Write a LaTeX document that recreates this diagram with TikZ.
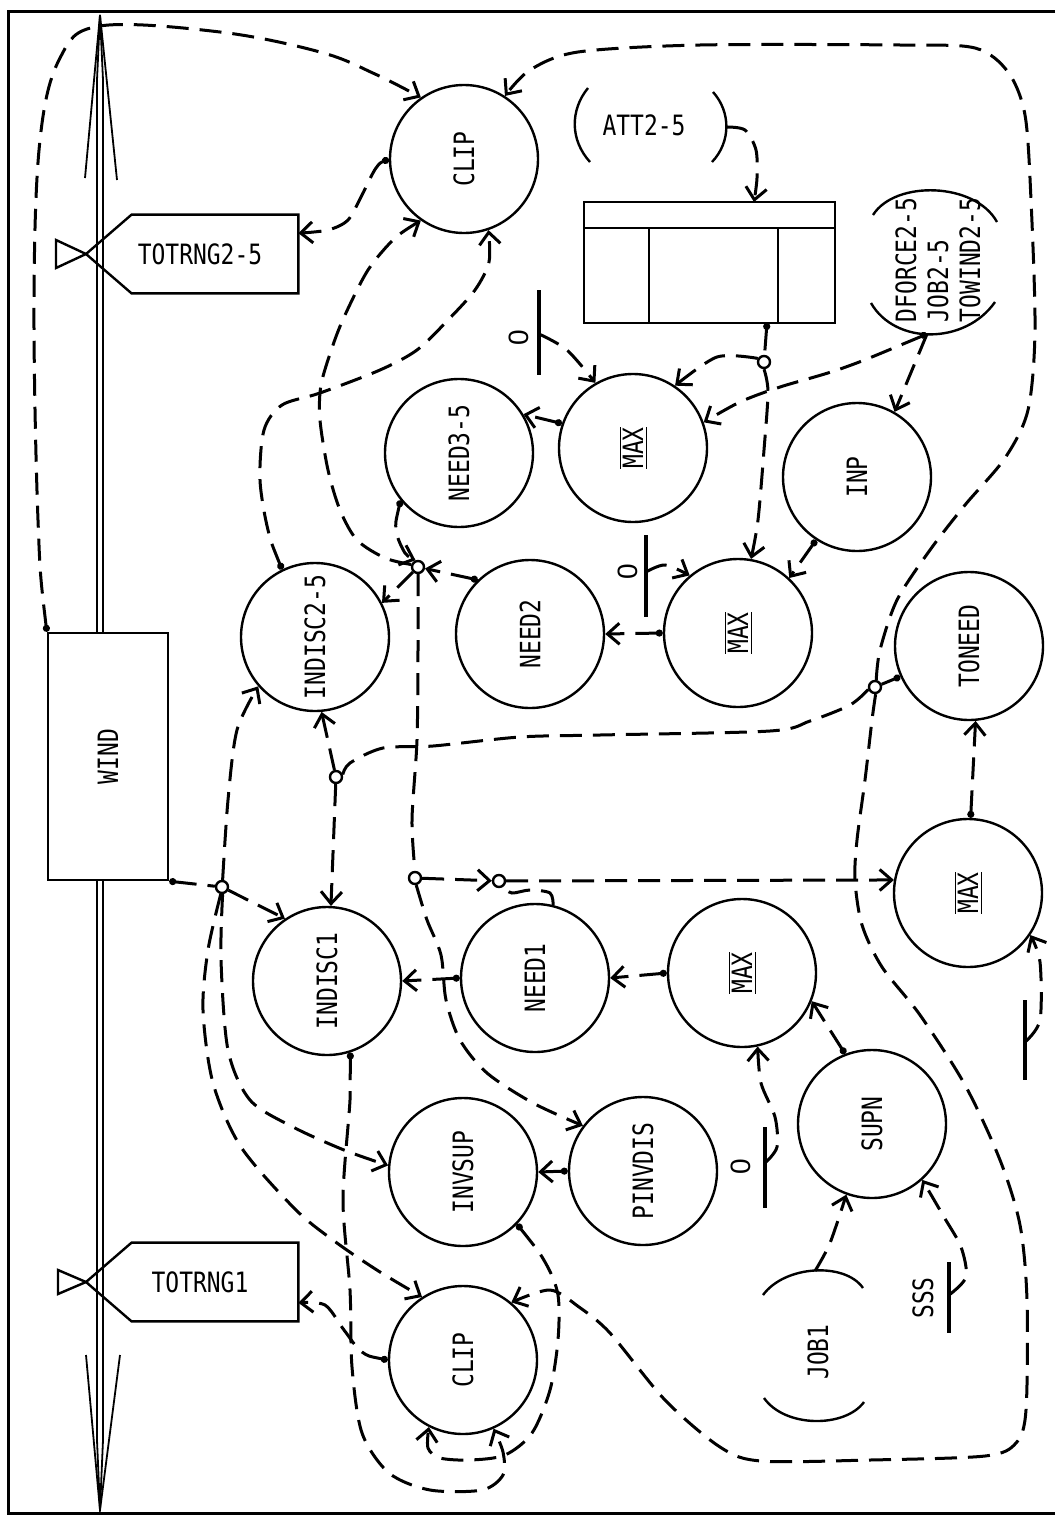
\documentclass[tikz,border=0pt]{standalone}
\usepackage{fontspec}
\newfontfamily\plotfont[FakeStretch=0.82]{DejaVu Sans Mono}
\newfontfamily\zerofont{Liberation Sans}
\usetikzlibrary{arrows.meta}
\newcommand{\maxbar}{$\overline{\underline{\mbox{MAX}}}$}

\begin{document}
\begin{tikzpicture}[x=0.5pt, y=-0.5pt,
    font=\plotfont\fontsize{14}{16}\selectfont,
    bubble/.style={circle, draw, line width=1.2pt, minimum size=74pt, inner sep=1pt},
    junc/.style={circle, draw, line width=1.2pt, fill=white, inner sep=0pt, minimum size=6pt},
    flow/.style={line width=1.5pt, dash pattern=on 11pt off 5.5pt},
    link/.style={flow, -{Straight Barb[length=6pt,width=10.5pt]}},
    dlink/.style={flow, {Circle[length=3.5pt]}-{Straight Barb[length=6pt,width=10.5pt]}},
    dline/.style={flow, {Circle[length=3.5pt]}-},
    outline/.style={line width=1.2pt},
    const/.style={line width=1.6pt},
    zero/.style={rotate=90, font=\zerofont\fontsize{14}{16}\selectfont}
  ]
  \useasboundingbox (0,0) rectangle (1055,1515);
  \draw[line width=1.5pt] (1055,11) -- (8,11) -- (8,1513) -- (1055,1513);

  \draw[line width=0.9pt] (97,633) -- (97,80) -- (100,15) -- (103,80) -- (103,633);
  \draw[line width=0.9pt] (85,178) -- (100,15) -- (117,180);
  \draw[line width=0.9pt] (97,880) -- (97,1440) -- (100,1510) -- (103,1440) -- (103,880);
  \draw[line width=0.9pt] (86,1355) -- (100,1510) -- (120,1355);

  \node[bubble] (clipA) at (464,159) {\rotatebox{90}{CLIP}};
  \node[bubble] (needC) at (459,453) {\rotatebox{90}{NEED3-5}};
  \node[bubble] (maxA) at (633,448) {\rotatebox{90}{\maxbar}};
  \node[bubble] (inp) at (857,477) {\rotatebox{90}{INP}};
  \node[bubble] (indiscB) at (315,637) {\rotatebox{90}{INDISC2-5}};
  \node[bubble] (needB) at (530,634) {\rotatebox{90}{NEED2}};
  \node[bubble] (maxB) at (738,633) {\rotatebox{90}{\maxbar}};
  \node[bubble] (toneed) at (969,646) {\rotatebox{90}{TONEED}};
  \node[bubble] (indiscA) at (327,981) {\rotatebox{90}{INDISC1}};
  \node[bubble] (needA) at (535,978) {\rotatebox{90}{NEED1}};
  \node[bubble] (maxC) at (742,973) {\rotatebox{90}{\maxbar}};
  \node[bubble] (maxD) at (968,893) {\rotatebox{90}{\maxbar}};
  \node[bubble] (supn) at (872,1124) {\rotatebox{90}{SUPN}};
  \node[bubble] (pinvdis) at (643,1171) {\rotatebox{90}{PINVDIS}};
  \node[bubble] (invsup) at (463,1172) {\rotatebox{90}{INVSUP}};
  \node[bubble] (clipB) at (463,1360) {\rotatebox{90}{CLIP}};

  \node[draw, outline, fill=white, minimum width=60pt, minimum height=123.5pt] (wind) at (108,756.5) {\rotatebox{90}{WIND}};

  \node[minimum width=83pt, minimum height=39pt, inner sep=0pt] (totrngB) at (215,254) {TOTRNG2-5\hspace*{15pt}};
  \draw[outline] (totrngB.north west) -- (totrngB.north east) -- (totrngB.south east) -- (totrngB.south west) -- (86,254) -- cycle;
  \draw[outline] (86,254) -- (56,240) -- (56,268) -- cycle;
  \node[minimum width=83pt, minimum height=39pt, inner sep=0pt] (totrngA) at (215,1282) {TOTRNG1\hspace*{15pt}};
  \draw[outline] (totrngA.north west) -- (totrngA.north east) -- (totrngA.south east) -- (totrngA.south west) -- (86,1282) -- cycle;
  \draw[outline] (86,1282) -- (58,1270) -- (58,1294) -- cycle;

  \node[draw, outline, minimum width=125.5pt, minimum height=60.5pt, inner sep=0pt] (table) at (709.5,262.5) {};
  \draw[outline] (584,228) -- (835,228) (649,228) -- (649,323) (778,228) -- (778,323);
  \coordinate (tabin) at (754,202);
  \coordinate (tabout) at (767,323);

  \node (att) at (644,125) {ATT2-5};
  \draw[outline] (588,88) .. controls (570,110) and (570,140) .. (590,162);
  \draw[outline] (713,92) .. controls (731,112) and (731,142) .. (712,162);
  \coordinate (attout) at (726,127);

  \node[rotate=90, align=left] (dforce) at (938,260) {DFORCE2-5\\JOB2-5\\TOWIND2-5};
  \draw[outline] (873,215) .. controls (895,180) and (975,182) .. (997,222);
  \draw[outline] (871,303) .. controls (895,345) and (965,345) .. (995,302);
  \coordinate (dfout) at (927,334);

  \node[rotate=90] (jobA) at (818,1352) {JOB1};
  \draw[outline] (763,1295) .. controls (785,1265) and (845,1262) .. (863,1288);
  \draw[outline] (764,1398) .. controls (785,1428) and (845,1428) .. (864,1402);
  \coordinate (jobout) at (815,1271);

  \draw[const] (539,290) -- (539,375);
  \coordinate (zA) at (539,334);
  \node[zero] (zAlbl) at (519,338) {0};
  \draw[const] (646,535) -- (646,617);
  \coordinate (zB) at (646,572);
  \node[zero] (zBlbl) at (628,572) {0};
  \draw[const] (765,1127) -- (765,1208);
  \coordinate (zC) at (765,1163);
  \node[zero] (zClbl) at (741,1167) {0};
  \draw[const] (1025,1000) -- (1025,1080);
  \coordinate (zD) at (1025,1042);
  \draw[const] (949,1262) -- (949,1333);
  \coordinate (sss) at (949,1295);
  \node[rotate=90] (ssslbl) at (923,1298) {SSS};

  \node[junc] (jN2) at (418,567) {};
  \node[junc] (jLow) at (415,878) {};
  \node[junc] (jMid) at (499,881) {};
  \node[junc] (jInd) at (336,777) {};
  \node[junc] (jWind) at (222,887) {};
  \node[junc] (jTon) at (875,687) {};
  \node[junc] (jTab) at (764,362) {};

  \draw[dlink] plot[smooth, tension=0.6] coordinates {(wind.north west) (38,520) (34,300) (40,140) (60,58) (100,26) (220,32) (320,52) (375,74) (clipA.125)};
  \draw[link] plot[smooth, tension=0.5] coordinates {(jTon.80) (880,650) (897,600) (930,550) (965,505) (1005,458) (1028,410) (1035,330) (1031,200) (1025,115) (1008,72) (975,48) (900,45) (700,45) (578,52) (530,70) (clipA.57)};
  \draw[link] plot[smooth, tension=0.5] coordinates {(jTon.275) (872,720) (865,780) (857,840) (855,880) (862,925) (882,967) (920,1015) (965,1085) (1000,1160) (1020,1225) (1027,1300) (1026,1410) (1016,1443) (985,1456) (870,1460) (761,1461) (720,1447) (665,1400) (610,1333) (579,1307) (550,1290) (clipB.50)};
  \draw[dlink] plot[smooth, tension=0.5] coordinates {(invsup.316) (545,1262) (558,1295) (558,1340) (550,1390) (532,1433) (505,1455) (470,1460) (440,1458) (428,1448) (clipB.243)};
  \draw[dlink] plot[smooth, tension=0.5] coordinates {(indiscA.288) (350,1100) (343,1200) (350,1290) (352,1367) (362,1433) (389,1473) (430,1490) (482,1490) (503,1475) (503,1452) (clipB.294)};

  \draw[dline] (wind.south east) -- (jWind);
  \draw[link] (jWind) -- (indiscA.124);
  \draw[link] plot[smooth] coordinates {(jWind.85) (228,800) (237,730) (indiscB.221)};
  \draw[link] plot[smooth] coordinates {(jWind.275) (221,960) (228,1050) (250,1100) (293,1127) (344,1150) (invsup.175)};
  \draw[link] plot[smooth] coordinates {(jWind.260) (208,950) (203,1010) (213,1083) (241,1147) (296,1210) (337,1243) (380,1272) (clipB.123)};

  \draw[dlink] plot[smooth] coordinates {(clipB.180) (362,1352) (344,1330) (325,1305) (totrngA.-14)};
  \draw[dlink] plot[smooth] coordinates {(clipA.180) (376,168) (362,195) (348,220) (328,230) (totrngB.14)};
  \draw[dlink] plot[smooth] coordinates {(indiscB.116) (268,530) (260,480) (264,430) (282,405) (320,393) (380,370) (417,350) (448,320) (475,290) (489,262) (clipA.289)};
  \draw[link] plot[smooth] coordinates {(jN2.160) (385,558) (357,540) (340,510) (328,470) (320,420) (321,385) (333,345) (345,315) (368,270) (395,238) (clipA.235)};

  \draw[dlink] (needB.134) -- (jN2);
  \draw[dlink] plot[smooth] coordinates {(needC.219) (396,530) (405,553) (jN2.110)};
  \draw[link] (jN2) -- (indiscB.27);
  \draw[flow] plot[smooth] coordinates {(jN2.270) (418,650) (417,740) (412,820) (jLow.90)};
  \draw[link] (jLow) -- (jMid);
  \draw[link] (jMid) -- (maxD.170);
  \draw[flow] plot[smooth] coordinates {(needA.76) (550,893) (530,890) (512,893) (jMid.300)};
  \draw[link] plot[smooth] coordinates {(jLow.280) (427,920) (441,955) (446,1000) (460,1040) (487,1073) (533,1103) (pinvdis.143)};

  \draw[dlink] (needA.180) -- (indiscA.0);
  \draw[dlink] (maxC.180) -- (needA.0);
  \draw[dlink] (maxB.180) -- (needB.0);
  \draw[dlink] (maxA.161) -- (needC.31);
  \draw[dlink] (inp.237) -- (maxB.47);
  \draw[dlink] (maxD.88) -- (toneed.275);
  \draw[dlink] (supn.111) -- (maxC.338);
  \draw[dlink] (pinvdis.180) -- (invsup.0);

  \draw[dline] (toneed.204) -- (jTon);
  \draw[flow] plot[smooth] coordinates {(jTon.200) (850,705) (810,721) (770,731) (600,735) (520,737) (433,746) (383,748) (350,763) (jInd.20)};
  \draw[link] (jInd) -- (indiscB.275);
  \draw[link] (jInd) -- (indiscA.87);

  \draw[dline] (tabout) -- (jTab);
  \draw[link] plot[smooth] coordinates {(jTab.150) (717,357) (maxA.56)};
  \draw[link] plot[smooth] coordinates {(jTab.270) (768,392) (764,450) (758,520) (maxB.80)};
  \draw[dlink] plot[smooth] coordinates {(dfout) (843,368) (780,387) (740,402) (maxA.20)};
  \draw[link] (dfout) -- (inp.60);
  \draw[link] plot[smooth] coordinates {(attout) (745,130) (756,150) (757,178) (tabin)};

  \draw[link] plot[smooth] coordinates {(zA) (567,350) (maxA.120)};
  \draw[link] plot[smooth] coordinates {(zB) (665,565) (maxB.130)};
  \draw[link] plot[smooth] coordinates {(zC) (777,1147) (775,1117) (761,1083) (maxC.282)};
  \draw[link] plot[smooth] coordinates {(zD) (1040,1020) (1040,962) (maxD.326)};
  \draw[link] plot[smooth] coordinates {(sss) (966,1277) (961,1247) (944,1217) (supn.312)};
  \draw[link] plot[smooth] coordinates {(jobout) (830,1243) (supn.250)};
\end{tikzpicture}
\end{document}
